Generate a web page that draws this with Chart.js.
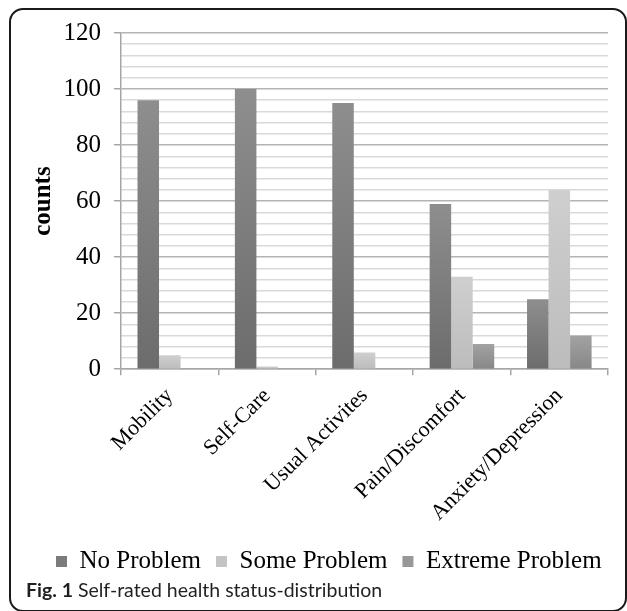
<!DOCTYPE html>
<html>
<head>
<meta charset="utf-8">
<script src="https://cdn.jsdelivr.net/npm/chart.js@4.4.1/dist/chart.umd.min.js"></script>
<style>
  html, body { margin: 0; padding: 0; background: #fff; }
  body { width: 627px; height: 611px; position: relative; overflow: hidden; }
  #frame {
    position: absolute; left: 9px; top: 8px; width: 618px; height: 604px;
    box-sizing: border-box; border: 2px solid #1a1a1a; border-radius: 14px;
  }
  #wrap { position: absolute; left: 0; top: 0; width: 627px; height: 584px; }
  #caption {
    position: absolute; left: 26px; top: 580px; font-family: Lato, "Open Sans", sans-serif;
    font-size: 19.5px; line-height: 20px; color: #231f20; white-space: nowrap;
  }
  #caption b { font-weight: 700; }
</style>
</head>
<body>
<div id="frame"></div>
<div id="wrap"><canvas id="myChart"></canvas></div>
<div id="caption"><b>Fig. 1</b> Self-rated health status-distribution</div>
<script>
const categories = ['Mobility', 'Self-Care', 'Usual Activites', 'Pain/Discomfort', 'Anxiety/Depression'];
const seriesNames = ['No Problem', 'Some Problem', 'Extreme Problem'];
const noProblem = [96, 100, 95, 59, 25];
const someProblem = [5, 1, 6, 33, 64];
const extremeProblem = [0, 0, 0, 9, 12];
const yMin = 0, yMax = 120, yLabelStep = 20, yMinorStep = 4;

// bar shading, top -> bottom, plus flat colours for the legend
const topColors = ['#8e8e8e', '#cfcfcf', '#a2a2a2'];
const bottomColors = ['#6c6c6c', '#bcbcbc', '#878787'];
const legendColors = ['#7b7b7b', '#c4c4c4', '#989898'];

function barFill(c, i) {
    const chart = c.chart;
    if (!chart.chartArea || c.type !== 'data') return legendColors[i];
    const y = chart.scales.y;
    const top = y.getPixelForValue(c.raw);
    const bottom = y.getPixelForValue(0);
    if (!(bottom > top)) return legendColors[i];
    const g = chart.ctx.createLinearGradient(0, top, 0, bottom);
    g.addColorStop(0, topColors[i]);
    g.addColorStop(1, bottomColors[i]);
    return g;
}

const values = [noProblem, someProblem, extremeProblem];
const data = {
    labels: categories,
    datasets: seriesNames.map((name, i) => ({
        label: name,
        data: values[i],
        backgroundColor: (c) => barFill(c, i),
        borderWidth: 0,
        categoryPercentage: 0.663,
        barPercentage: 1.0
    }))
};

const serif = '"Liberation Serif", "Times New Roman", serif';

const config = {
    type: 'bar',
    data: data,
    options: {
        responsive: true,
        maintainAspectRatio: false,
        animation: false,
        layout: { padding: { left: 41, right: 0, top: 33, bottom: 0 } },
        plugins: {
            tooltip: { enabled: false },
            legend: {
                position: 'bottom',
                align: 'start',
                labels: {
                    color: '#000',
                    font: { family: serif, size: 25 },
                    boxWidth: 11,
                    boxHeight: 11,
                    padding: 15,
                    generateLabels: (chart) => seriesNames.map((name, i) => ({
                        text: name,
                        fillStyle: legendColors[i],
                        strokeStyle: legendColors[i],
                        lineWidth: 0,
                        datasetIndex: i,
                        hidden: false
                    }))
                }
            }
        },
        scales: {
            x: {
                offset: true,
                grid: {
                    display: true,
                    offset: true,
                    drawOnChartArea: false,
                    tickLength: 6,
                    color: '#a6a6a6',
                    lineWidth: 1.5
                },
                border: { color: '#a6a6a6', width: 1.5 },
                ticks: {
                    color: '#000',
                    font: { family: serif, size: 22, lineHeight: 1.05 },
                    minRotation: 45,
                    maxRotation: 45,
                    autoSkip: false,
                    padding: 9
                }
            },
            y: {
                min: yMin,
                max: yMax,
                title: {
                    display: true,
                    text: 'counts',
                    color: '#000',
                    font: { family: serif, size: 25, weight: 'bold', lineHeight: '4.6px' },
                    padding: { top: 0, bottom: 5 }
                },
                grid: {
                    color: (c) => (c.tick && c.tick.value % yLabelStep === 0) ? '#b4b4b4' : '#d9d9d9',
                    lineWidth: 1.5,
                    tickLength: 7,
                    tickColor: (c) => (c.tick && c.tick.value % yLabelStep === 0) ? '#a6a6a6' : 'rgba(0,0,0,0)'
                },
                border: { color: '#a6a6a6', width: 1.5 },
                ticks: {
                    stepSize: yMinorStep,
                    autoSkip: false,
                    color: '#000',
                    font: { family: serif, size: 25 },
                    padding: 13,
                    callback: (v) => (v % yLabelStep === 0 ? String(v) : '')
                }
            },
            // empty strip on the right so the legend row can use the full width
            spacer: {
                type: 'linear',
                position: 'right',
                min: 0,
                max: 1,
                grid: { display: false },
                border: { display: false },
                ticks: { display: false },
                afterFit: (s) => { s.width = 19; }
            }
        }
    }
};

var myChart = new Chart(document.getElementById('myChart'), config);
</script>
</body>
</html>
